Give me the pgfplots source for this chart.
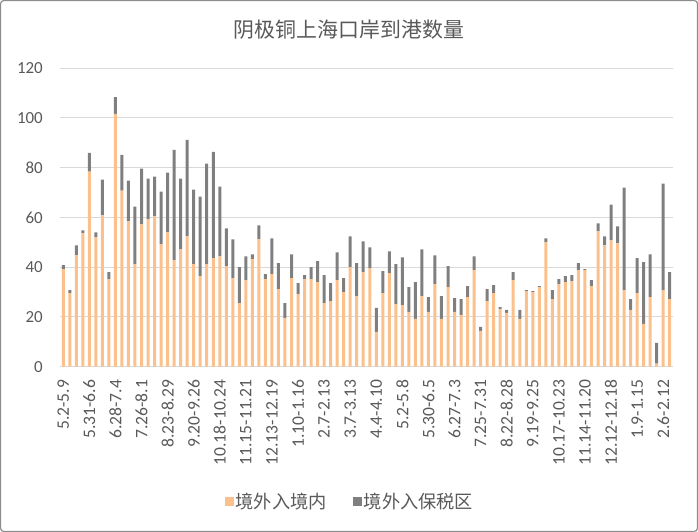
\documentclass[border=0pt]{standalone}
\usepackage{pgfplots}
\pgfplotsset{compat=1.18}
\usepackage{pgfplotstable}
\usepackage{fontspec}
\setmainfont{Carlito}
\newfontfamily\cjk{Noto Sans CJK SC}
\definecolor{barorange}{HTML}{FCC08C}
\definecolor{bargray}{HTML}{7F7F7F}
\definecolor{gridgray}{HTML}{D9D9D9}
\definecolor{txtgray}{HTML}{595959}
\definecolor{framegray}{HTML}{8C8C8C}

\pgfplotstableread{
x a b
0 39.2 1.6
1 29.6 1.2
2 44.8 4.0
3 53.6 1.2
4 78.4 7.6
5 52.0 2.0
6 60.8 14.4
7 35.2 2.8
8 101.6 6.8
9 70.8 14.4
10 58.4 16.4
11 41.2 23.2
12 57.2 22.4
13 59.2 16.4
14 60.4 16.0
15 49.2 21.2
16 54.0 24.0
17 42.8 44.4
18 47.2 28.4
19 52.4 38.8
20 41.2 30.0
21 36.4 32.0
22 41.2 40.4
23 43.6 42.8
24 44.4 28.0
25 40.4 15.2
26 35.6 15.6
27 25.6 14.4
28 34.8 9.6
29 43.2 2.0
30 51.2 5.6
31 35.2 2.0
32 37.2 14.4
33 31.2 10.4
34 19.6 6.0
35 35.6 9.6
36 29.2 4.4
37 35.2 1.6
38 35.2 4.8
39 34.0 8.4
40 25.6 11.2
41 26.4 7.2
42 34.8 11.2
43 30.0 5.6
44 40.0 12.4
45 28.4 13.2
46 38.0 12.4
47 39.6 8.4
48 14.0 9.6
49 29.6 8.8
50 37.6 8.8
51 25.2 16.0
52 24.8 19.2
53 22.0 10.0
54 19.2 14.8
55 28.4 18.8
56 22.0 6.0
57 33.2 11.6
58 19.2 9.2
59 32.0 8.4
60 22.0 5.6
61 20.8 6.4
62 28.0 4.4
63 38.8 5.6
64 14.4 1.6
65 26.4 4.8
66 29.6 3.2
67 23.2 0.8
68 21.6 1.2
69 34.8 3.2
70 19.2 3.6
71 30.4 0.4
72 30.0 0.4
73 32.0 0.4
74 50.0 1.6
75 27.2 3.6
76 33.2 2.0
77 34.0 2.4
78 34.4 2.4
79 38.8 2.8
80 38.8 0.4
81 32.4 2.4
82 54.4 3.2
83 48.8 3.6
84 50.8 14.4
85 49.6 6.8
86 30.8 41.2
87 22.8 4.4
88 29.6 14.0
89 17.2 24.8
90 28.0 17.2
91 1.2 8.4
92 30.8 42.8
93 27.2 10.8
}\datatable

\begin{document}
\begin{tikzpicture}
\begin{axis}[
  at={(0,0)}, anchor=south west,
  scale only axis,
  width=613bp, height=298.5bp,
  ybar stacked,
  bar width=3bp,
  xmin=-0.5, xmax=93.5,
  ymin=0, ymax=120,
  ytick={0,20,...,120},
  xtick={0,4,...,92},
  xticklabels={5.2-5.9,5.31-6.6,6.28-7.4,7.26-8.1,8.23-8.29,9.20-9.26,10.18-10.24,11.15-11.21,12.13-12.19,1.10-1.16,2.7-2.13,3.7-3.13,4.4-4.10,5.2-5.8,5.30-6.5,6.27-7.3,7.25-7.31,8.22-8.28,9.19-9.25,10.17-10.23,11.14-11.20,12.12-12.18,1.9-1.15,2.6-2.12},
  major tick length=0pt,
  axis line style={draw=none},
  ymajorgrids,
  grid style={gridgray, line width=1bp},
  /pgf/number format/assume math mode=true,
  tick label style={font=\fontsize{17}{20}\selectfont, text=txtgray},
  xticklabel style={rotate=90, anchor=east, inner sep=0pt, font=\fontsize{17.6}{20}\selectfont},
  xticklabel shift=13bp,
  yticklabel style={anchor=east, inner sep=0pt},
  yticklabel shift=17bp,
  legend style={at={(0.473,-0.453)}, anchor=center, draw=none, fill=none,
    legend columns=2, font=\cjk\fontsize{18.3}{21}\selectfont, text=txtgray,
    /tikz/every even column/.append style={column sep=24bp},
    inner sep=0pt},
  legend image code/.code={\fill[#1] (0bp,-4.5bp) rectangle (9bp,4.5bp);},
]
\addplot[fill=barorange, draw=none] table[x=x, y=a] {\datatable};
\addlegendentry{境外入境内}
\addplot[fill=bargray, draw=none] table[x=x, y=b] {\datatable};
\addlegendentry{境外入保税区}
\end{axis}
\node[text=txtgray, font=\cjk\fontsize{21}{25}\selectfont] at (289bp,336.7bp) {阴极铜上海口岸到港数量};
\pgfresetboundingbox
\path[use as bounding box] (-60bp,-165.3bp) rectangle (638bp,366.7bp);
\draw[framegray, line width=1.2bp, rounded corners=3bp] (-59.4bp,-164.7bp) rectangle (637.4bp,366.1bp);
\end{tikzpicture}
\end{document}
